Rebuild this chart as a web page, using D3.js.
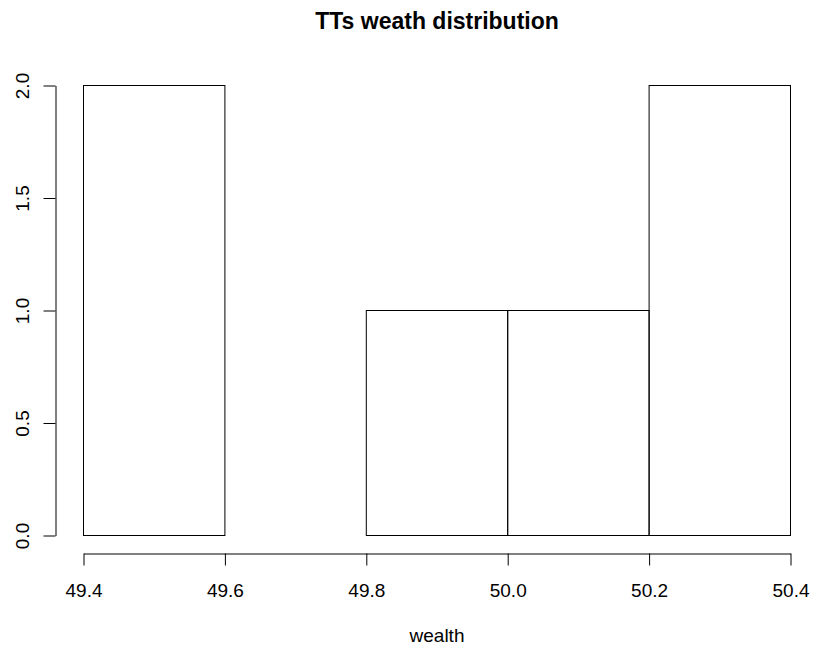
<!DOCTYPE html>
<html>
<head>
<meta charset="utf-8">
<script src="https://cdn.jsdelivr.net/npm/d3@7"></script>
<style>
  body { margin: 0; background: #fff; }
  svg { display: block; font-family: "Liberation Sans", Arial, sans-serif; }
</style>
</head>
<body>
<div id="chart"></div>
<script>
// histogram data
const breaks = [49.4, 49.6, 49.8, 50.0, 50.2, 50.4];
const counts = [2, 0, 1, 1, 2];
const xTicks = [49.4, 49.6, 49.8, 50.0, 50.2, 50.4];
const yTicks = [0, 0.5, 1.0, 1.5, 2.0];
const title = "TTs weath distribution";
const xLabel = "wealth";

const width = 815;
const height = 651;

const svg = d3.select("#chart")
  .append("svg")
  .attr("width", width)
  .attr("height", height);

// scales
const x = d3.scaleLinear().domain([49.4, 50.4]).range([83.5, 790.5]);
const y = d3.scaleLinear().domain([0, 2]).range([535.5, 85.5]);

const bins = counts.map((c, i) => ({ x0: breaks[i], x1: breaks[i + 1], count: c }));

// bars
svg.append("g")
  .selectAll("rect")
  .data(bins)
  .enter()
  .append("rect")
  .attr("x", d => x(d.x0))
  .attr("y", d => y(d.count))
  .attr("width", d => x(d.x1) - x(d.x0))
  .attr("height", d => y(0) - y(d.count))
  .attr("fill", "none")
  .attr("stroke", "#000")
  .attr("stroke-width", 1);

// x axis
const xAxis = svg.append("g")
  .attr("transform", "translate(0,553.5)")
  .call(d3.axisBottom(x)
    .tickValues(xTicks)
    .tickFormat(d3.format(".1f"))
    .tickSize(12)
    .tickSizeOuter(0)
    .tickPadding(18));
xAxis.selectAll("text").style("font-size", "19px").attr("fill", "#000");
xAxis.selectAll("line, path").attr("stroke", "#000");

// y axis
const yAxis = svg.append("g")
  .attr("transform", "translate(55.5,0)")
  .call(d3.axisLeft(y)
    .tickValues(yTicks)
    .tickFormat(d3.format(".1f"))
    .tickSize(12)
    .tickSizeOuter(0));
yAxis.selectAll("text")
  .style("font-size", "19px")
  .attr("fill", "#000")
  .attr("text-anchor", "middle")
  .attr("x", 0)
  .attr("y", -27)
  .attr("dy", null)
  .attr("transform", "rotate(-90)");
yAxis.selectAll("line, path").attr("stroke", "#000");

// title
svg.append("text")
  .attr("x", (x.range()[0] + x.range()[1]) / 2)
  .attr("y", 28.5)
  .attr("text-anchor", "middle")
  .style("font-size", "23px")
  .style("font-weight", "bold")
  .text(title);

// x label
svg.append("text")
  .attr("x", (x.range()[0] + x.range()[1]) / 2)
  .attr("y", 642)
  .attr("text-anchor", "middle")
  .style("font-size", "19px")
  .text(xLabel);
</script>
</body>
</html>
